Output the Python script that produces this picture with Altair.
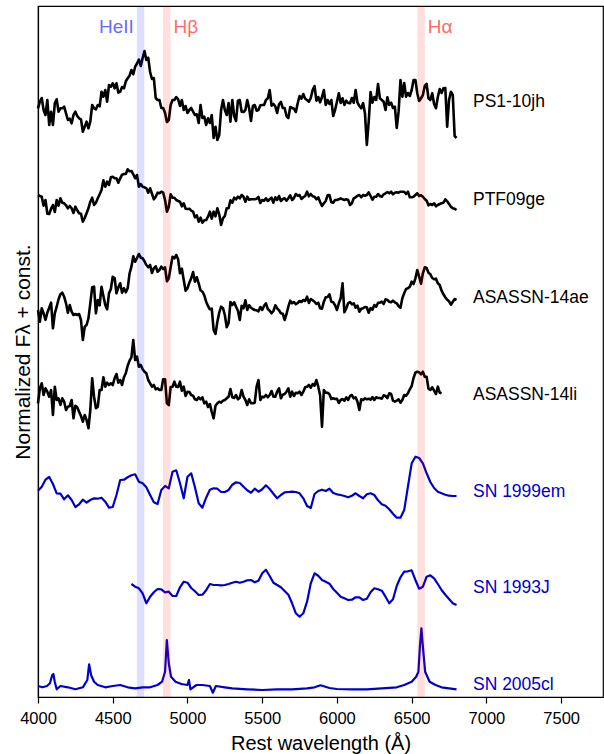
import altair as alt
import pandas as pd

# ---------------- data ----------------
GRID = list(range(4000, 6801, 25))          # wavelength grid, Å (113 points)
MID = [g + 12.5 for g in range(4000, 6800, 25)]  # half-step samples (112)
GRID_LI = list(range(4000, 6701, 25))       # ASASSN-14li ends at 6700 Å
MID_LI = [g + 12.5 for g in range(4000, 6700, 25)]
GRID_93J = list(range(4625, 6801, 25))      # SN 1993J starts at 4625 Å

PS1 = [59.17, 60.2, 58.5, 57.5, 57.5, 60.07, 59.17, 59.33, 58.0, 57.67,
       58.83, 58.17, 56.83, 57.83, 57.83, 59.17, 59.5, 60.83, 61.0, 61.5,
       61.67, 61.67, 60.83, 61.17, 62.17, 63.0, 63.33, 64.04, 64.2, 64.0,
       62.8, 62.2, 60.0, 59.2, 58.7, 58.0, 60.0, 60.3, 59.4, 59.0,
       58.7, 59.2, 58.5, 57.7, 58.2, 57.5, 57.7, 56.2, 56.0, 59.0,
       59.0, 59.7, 60.0, 57.9, 60.0, 58.8, 60.0, 57.9, 59.5, 59.0,
       59.5, 60.0, 61.0, 59.6, 58.7, 59.8, 59.2, 58.2, 59.2, 58.8,
       60.4, 60.6, 60.0, 60.2, 61.4, 60.3, 60.3, 59.5, 59.6, 58.4,
       59.83, 59.7, 59.5, 59.7, 60.2, 61.0, 59.4, 59.7, 55.5, 60.8,
       60.3, 61.6, 60.0, 59.0, 59.5, 59.2, 57.2, 62.0, 61.7, 60.7,
       61.0, 62.0, 59.9, 60.5, 61.6, 60.0, 59.6, 60.3, 60.7, 61.2,
       60.0, 60.5, 56.2]
PS1_MID = [59.83, 59.0, 60.0, 58.83, 59.67, 58.83, 59.17, 58.67, 58.13, 58.5,
           58.4, 58.07, 57.33, 57.17, 59.5, 59.07, 59.37, 60.33, 59.83, 61.33,
           61.17, 60.73, 61.3, 61.87, 62.43, 62.57, 63.65, 63.4, 64.9, 64.23,
           62.1, 60.2, 60.0, 59.2, 57.8, 59.5, 60.0, 60.07, 60.0, 59.4,
           59.0, 58.83, 58.57, 59.5, 58.33, 58.17, 58.5, 57.33, 56.5, 60.0,
           58.5, 57.83, 58.4, 59.93, 58.83, 59.0, 59.17, 59.4, 58.93, 59.47,
           59.5, 60.17, 59.43, 59.37, 59.57, 59.2, 58.4, 59.3, 59.13, 59.67,
           60.13, 60.13, 59.83, 61.0, 59.93, 59.77, 61.0, 60.0, 60.0, 59.0,
           60.67, 60.17, 59.93, 59.67, 59.73, 59.73, 59.17, 58.67, 57.83, 59.73,
           60.0, 60.17, 59.83, 60.27, 59.73, 59.33, 58.83, 60.33, 60.33, 60.4,
           62.0, 60.67, 60.17, 61.4, 60.17, 60.67, 59.17, 61.1, 61.17, 57.33,
           60.83, 56.4]

PTF = [50.5, 50.33, 50.0, 48.6, 49.5, 50.0, 50.17, 49.67, 49.17, 49.17,
       49.33, 48.67, 47.83, 48.67, 49.83, 49.5, 50.17, 51.0, 51.33, 51.5,
       52.33, 52.17, 52.17, 52.6, 53.07, 52.9, 52.17, 51.33, 51.33, 51.17,
       51.17, 50.07, 50.73, 50.83, 50.0, 49.33, 50.23, 50.0, 49.83, 49.67,
       49.1, 48.93, 48.27, 47.83, 47.73, 48.0, 48.83, 48.83, 49.17, 47.5,
       48.4, 49.17, 49.73, 50.07, 50.17, 50.33, 50.33, 50.07, 50.07, 50.3,
       50.0, 50.17, 50.07, 49.73, 50.0, 49.9, 50.17, 50.17, 50.0, 50.6,
       50.5, 50.27, 50.83, 50.6, 50.33, 50.27, 49.4, 49.9, 50.5, 49.73,
       50.0, 50.17, 50.0, 50.0, 49.67, 50.27, 50.5, 50.5, 50.5, 50.4,
       50.33, 50.6, 50.33, 50.67, 50.67, 50.57, 50.77, 50.83, 50.83, 50.83,
       50.27, 50.5, 50.4, 50.33, 49.93, 49.6, 49.67, 49.5, 49.67, 50.07,
       49.6, 49.17, 49.0]
PTF_MID = [50.4, 49.43, 48.63, 49.13, 48.8, 49.43, 49.73, 49.47, 49.4, 48.7,
           48.97, 48.63, 48.2, 49.17, 50.23, 49.73, 50.57, 51.97, 51.83, 52.27,
           52.17, 51.73, 52.53, 52.6, 52.87, 52.57, 52.5, 51.6, 51.27, 50.73,
           50.63, 50.33, 50.67, 50.73, 48.83, 50.57, 50.23, 49.9, 49.37, 49.13,
           49.13, 48.83, 48.47, 48.23, 47.97, 48.33, 48.13, 48.37, 48.57, 48.17,
           49.17, 49.97, 50.23, 50.33, 50.5, 49.83, 50.03, 50.07, 50.13, 49.7,
           49.93, 49.9, 50.23, 50.27, 50.4, 50.1, 49.93, 50.47, 50.2, 50.43,
           50.1, 50.4, 50.37, 50.37, 50.07, 49.8, 49.67, 50.47, 49.77, 50.0,
           50.07, 50.07, 50.07, 49.5, 50.17, 50.43, 50.27, 50.43, 50.77, 50.03,
           50.33, 50.4, 50.57, 50.8, 50.83, 50.73, 50.73, 50.83, 50.6, 50.27,
           50.33, 50.67, 50.47, 50.1, 49.47, 49.5, 49.37, 49.6, 49.73, 49.87,
           49.33, 49.13]

AE = [39.0, 39.17, 38.0, 39.23, 37.17, 39.33, 40.57, 40.33, 38.73, 38.83,
      38.6, 38.6, 36.0, 37.5, 39.67, 41.33, 40.0, 41.33, 39.5, 40.67,
      42.33, 40.67, 41.67, 41.17, 41.17, 43.33, 43.83, 44.6, 44.17, 43.5,
      43.5, 43.17, 42.83, 43.33, 43.27, 42.17, 44.33, 44.5, 42.67, 42.0,
      41.17, 42.17, 41.83, 41.67, 40.83, 39.83, 39.07, 37.0, 37.83, 39.33,
      38.5, 37.67, 39.5, 39.33, 38.0, 39.17, 39.0, 39.23, 39.0, 38.87,
      39.0, 39.67, 38.93, 38.9, 39.17, 38.67, 38.0, 39.33, 39.67, 39.57,
      39.9, 40.0, 40.33, 40.1, 39.83, 39.73, 39.13, 40.27, 40.57, 39.77,
      39.0, 40.17, 38.77, 39.67, 39.57, 39.23, 38.83, 39.17, 39.27, 39.2,
      39.5, 39.73, 39.83, 40.07, 39.83, 39.93, 39.67, 39.23, 40.67, 41.17,
      41.83, 42.17, 42.33, 42.67, 43.2, 42.57, 42.07, 41.67, 40.93, 40.27,
      39.87, 39.83, 40.0]
AE_MID = [37.83, 38.67, 38.73, 39.73, 38.67, 40.07, 40.73, 39.67, 39.5, 38.5,
          38.5, 38.0, 37.33, 38.17, 41.27, 38.67, 39.47, 40.4, 39.07, 41.1,
          42.2, 41.27, 40.73, 40.77, 42.63, 44.37, 44.2, 44.23, 43.87, 43.27,
          42.7, 43.37, 43.0, 43.1, 41.87, 43.27, 44.17, 44.07, 43.13, 40.93,
          41.73, 42.8, 42.27, 40.97, 40.47, 39.4, 39.13, 36.6, 38.73, 39.2,
          37.27, 39.8, 39.77, 38.93, 39.43, 39.97, 39.47, 39.1, 38.97, 39.3,
          39.43, 39.1, 38.67, 39.47, 38.97, 38.63, 38.6, 39.93, 39.8, 39.7,
          39.8, 39.9, 39.7, 39.97, 39.6, 39.17, 39.83, 40.3, 39.83, 39.47,
          39.67, 41.67, 39.17, 39.8, 39.67, 39.43, 39.13, 39.3, 38.73, 39.03,
          39.33, 39.73, 39.6, 40.0, 39.77, 39.77, 39.37, 40.17, 41.1, 41.33,
          41.6, 43.0, 41.63, 43.27, 42.73, 42.2, 42.13, 41.5, 40.57, 40.03,
          39.53, 40.1]

LI = [29.67, 31.67, 31.17, 30.33, 28.5, 30.0, 29.5, 29.83, 29.33, 30.0,
      29.43, 28.83, 27.83, 28.0, 29.0, 30.33, 29.33, 31.0, 31.33, 31.5,
      31.5, 32.6, 32.0, 32.27, 33.43, 34.27, 34.0, 33.33, 33.07, 32.67,
      31.67, 31.5, 31.17, 31.0, 32.07, 29.5, 31.33, 31.33, 31.83, 31.33,
      30.83, 30.5, 30.07, 30.27, 30.27, 29.83, 29.6, 28.17, 29.67, 29.73,
      30.0, 30.33, 30.27, 30.5, 30.23, 30.33, 29.5, 29.67, 29.73, 32.0,
      30.33, 30.5, 30.5, 30.33, 30.83, 30.17, 30.6, 31.17, 30.83, 30.73,
      30.83, 30.83, 31.33, 31.23, 31.43, 31.33, 27.33, 30.73, 30.57, 30.17,
      30.13, 30.0, 29.93, 30.0, 30.5, 30.27, 29.0, 30.0, 30.07, 30.03,
      30.0, 30.2, 30.13, 30.4, 30.67, 29.93, 29.93, 29.73, 30.5, 30.67,
      31.4, 32.73, 32.77, 32.83, 32.33, 31.0, 30.93, 31.33, 30.67]
LI_MID = [31.17, 30.5, 30.83, 31.0, 31.33, 30.17, 30.17, 29.0, 29.4, 28.17,
          29.27, 28.4, 28.5, 27.17, 32.17, 29.17, 31.0, 32.27, 31.73, 31.67,
          32.17, 31.73, 31.5, 32.67, 33.93, 36.0, 34.33, 33.5, 32.83, 32.0,
          31.33, 31.07, 31.0, 32.07, 29.67, 31.3, 31.83, 31.3, 30.93, 30.4,
          30.8, 30.43, 30.0, 30.07, 29.67, 29.3, 28.8, 29.43, 29.83, 29.93,
          30.17, 31.1, 30.2, 30.07, 31.0, 30.0, 30.07, 29.67, 31.33, 30.0,
          30.27, 30.27, 30.9, 30.33, 31.17, 30.53, 30.83, 30.33, 30.4, 30.67,
          30.5, 31.27, 31.5, 31.6, 32.0, 30.47, 31.0, 30.73, 30.1, 30.1,
          29.7, 30.1, 30.27, 30.4, 30.17, 29.83, 30.07, 30.17, 30.13, 30.3,
          30.27, 30.2, 30.47, 30.2, 30.6, 29.83, 30.07, 30.0, 30.43, 31.07,
          32.2, 32.83, 32.57, 32.33, 31.13, 31.27, 30.6, 30.73]

SN99 = [20.93, 21.33, 22.03, 22.3, 21.6, 20.67, 20.63, 20.07, 20.47, 20.0,
        19.3, 19.57, 20.03, 19.73, 20.0, 20.17, 20.13, 20.23, 19.83, 19.23,
        19.3, 20.5, 22.0, 22.03, 22.27, 22.47, 22.57, 21.83, 21.67, 21.27,
        20.5, 19.77, 19.6, 21.0, 21.4, 21.17, 22.83, 22.97, 21.67, 20.17,
        22.33, 22.67, 21.27, 19.67, 19.23, 20.23, 21.03, 21.17, 21.13, 20.8,
        20.8, 21.0, 21.53, 21.77, 21.7, 21.33, 20.97, 20.73, 21.13, 20.83,
        21.07, 21.47, 21.1, 20.63, 20.17, 20.5, 20.77, 20.8, 20.83, 20.8,
        20.67, 20.17, 19.4, 19.2, 20.6, 20.9, 21.03, 20.9, 21.13, 20.7,
        20.57, 20.5, 20.4, 20.27, 20.43, 20.67, 20.4, 20.17, 20.57, 20.67,
        20.5, 19.97, 19.57, 19.43, 19.07, 18.63, 18.23, 18.23, 19.0, 21.33,
        23.67, 24.33, 24.2, 23.67, 22.67, 21.8, 21.2, 20.83, 20.67, 20.53,
        20.43, 20.4, 20.4]

SN93 = [11.6, 11.33, 11.17, 10.67, 9.67, 10.33, 10.77, 11.1, 11.07, 10.77,
        10.83, 10.4, 10.4, 11.27, 11.83, 11.73, 11.2, 10.87, 10.5, 10.53,
        10.97, 11.6, 11.5, 11.5, 11.47, 11.5, 11.6, 11.73, 11.83, 11.73,
        11.83, 11.97, 12.0, 11.77, 11.93, 12.67, 13.03, 12.4, 11.73, 11.5,
        11.27, 10.9, 10.53, 9.67, 8.67, 8.33, 8.67, 9.83, 11.67, 12.67,
        12.43, 12.0, 11.83, 11.63, 11.1, 10.73, 10.33, 10.17, 10.0, 10.03,
        10.27, 10.27, 10.0, 10.13, 10.77, 11.17, 11.07, 10.93, 10.33, 9.67,
        10.07, 11.4, 12.27, 12.83, 12.87, 12.97, 12.0, 11.13, 11.33, 12.33,
        12.47, 12.17, 11.6, 11.0, 10.53, 10.1, 9.67, 9.5]

SN05_LAM = [4000, 4030, 4060, 4080, 4095, 4103, 4112, 4125, 4150, 4200,
            4250, 4300, 4330, 4342, 4355, 4375, 4400, 4450, 4500, 4550,
            4600, 4650, 4700, 4750, 4800, 4830, 4850, 4862, 4875, 4890,
            4920, 4960, 5000, 5010, 5020, 5060, 5100, 5150, 5170, 5190,
            5250, 5300, 5400, 5500, 5600, 5700, 5800, 5850, 5890, 5950,
            6000, 6100, 6200, 6300, 6400, 6450, 6500, 6530, 6545, 6555,
            6565, 6575, 6590, 6620, 6660, 6700, 6750, 6800]
SN05 = [1.4, 1.27, 1.4, 1.67, 2.5, 2.6, 1.83, 1.07, 1.4, 1.27,
        1.07, 1.27, 2.0, 3.57, 2.5, 1.83, 1.5, 1.27, 1.4, 1.5,
        1.27, 1.17, 1.27, 1.27, 1.5, 1.83, 2.83, 6.0, 3.67, 2.33,
        1.83, 1.6, 1.5, 2.0, 1.07, 1.5, 1.5, 1.4, 0.73, 1.4,
        1.27, 1.17, 1.07, 1.0, 1.07, 1.07, 1.17, 1.27, 1.47, 1.2,
        1.1, 1.07, 1.07, 1.17, 1.27, 1.5, 1.83, 2.33, 2.83, 5.33,
        7.17, 5.33, 2.83, 1.83, 1.5, 1.27, 1.17, 1.07]

NAMES = ["PS1-10jh", "PTF09ge", "ASASSN-14ae", "ASASSN-14li",
         "SN 1999em", "SN 1993J", "SN 2005cl"]
LABEL_FLUX = [59.8, 50.0, 40.2, 30.5, 20.83, 11.23, 1.5]
LABEL_LAM = 6910

BAND_NAMES = ["HeII", "Hβ", "Hα"]
BAND_LO = [4661, 4836, 6538]
BAND_HI = [4711, 4886, 6588]

# ---------------- styles ----------------
BLACK = "#000000"
BLUE = "#0000cd"
SPEC_COLORS = [BLACK, BLACK, BLACK, BLACK, BLUE, BLUE, BLUE]
SPEC_WIDTHS = [2.6, 2.6, 2.6, 2.6, 2.2, 2.2, 2.2]
BAND_COLORS = ["#0000ff", "#ff0000", "#ff0000"]
BAND_TEXT_COLORS = ["#6b6bff", "#ff6b6b", "#ff6b6b"]
FONT = "Liberation Sans"

series = [
    (GRID + MID, PS1 + PS1_MID),
    (GRID + MID, PTF + PTF_MID),
    (GRID + MID, AE + AE_MID),
    (GRID_LI + MID_LI, LI + LI_MID),
    (GRID, SN99),
    (GRID_93J, SN93),
    (SN05_LAM, SN05),
]
frames = []
for name, col, w, (lam, flux) in zip(NAMES, SPEC_COLORS, SPEC_WIDTHS, series):
    frames.append(pd.DataFrame({"lam": lam, "flux": flux, "name": name,
                                "col": col, "w": w}))
spec = pd.concat(frames, ignore_index=True).sort_values(["name", "lam"])

labels = pd.DataFrame({"name": NAMES, "flux": LABEL_FLUX,
                       "lam": [LABEL_LAM] * len(NAMES), "col": SPEC_COLORS})
bands = pd.DataFrame({"band": BAND_NAMES, "lo": BAND_LO, "hi": BAND_HI,
                      "col": BAND_COLORS, "tcol": BAND_TEXT_COLORS})

XDOM = [4000, 7780]
YDOM = [0.3, 69.4]
xs = alt.Scale(domain=XDOM, nice=False, zero=False)
ys = alt.Scale(domain=YDOM, nice=False, zero=False)

xaxis = alt.Axis(values=[4000, 4500, 5000, 5500, 6000, 6500, 7000, 7500],
                 format="d", labelFontSize=16.5, labelColor="black",
                 tickSize=6, tickColor="black", tickWidth=1.2,
                 domainColor="black", domainWidth=1.2, grid=False,
                 labelPadding=7, title="Rest wavelength (Å)",
                 titleFontSize=20, titleFontWeight="normal",
                 titleColor="black", titlePadding=7, labelFlush=False)
yaxis = alt.Axis(ticks=False, labels=False, grid=False, domainColor="black",
                 domainWidth=1.2, title="Normalized Fλ + const.",
                 titleFontSize=21, titleFontWeight="normal",
                 titleColor="black", titlePadding=5)

lines = alt.Chart(spec).mark_line(strokeJoin="round").encode(
    x=alt.X("lam:Q", scale=xs, axis=xaxis),
    y=alt.Y("flux:Q", scale=ys, axis=yaxis),
    color=alt.Color("col:N", scale=None),
    strokeWidth=alt.StrokeWidth("w:Q", scale=None),
    detail="name:N",
    order="lam:Q",
)

band_rects = alt.Chart(bands).mark_rect(opacity=0.13).encode(
    x="lo:Q", x2="hi:Q",
    y=alt.datum(YDOM[0]), y2=alt.datum(YDOM[1]),
    color=alt.Color("col:N", scale=None),
)

band_top = 67.3
he_text = alt.Chart(bands[bands.band == "HeII"]).mark_text(
    align="right", baseline="middle", fontSize=19, dx=-3).encode(
    x="lo:Q", y=alt.datum(band_top), text="band:N",
    color=alt.Color("tcol:N", scale=None))
h_text = alt.Chart(bands[bands.band != "HeII"]).mark_text(
    align="left", baseline="middle", fontSize=19, dx=3).encode(
    x="hi:Q", y=alt.datum(band_top), text="band:N",
    color=alt.Color("tcol:N", scale=None))

spec_text = alt.Chart(labels).mark_text(
    align="left", baseline="middle", fontSize=17.5).encode(
    x="lam:Q", y="flux:Q", text="name:N",
    color=alt.Color("col:N", scale=None))

chart = alt.layer(lines, band_rects, he_text, h_text, spec_text).properties(
    width=565, height=691,
    padding={"left": 38, "top": 6, "right": 1, "bottom": 57},
    autosize="none",
).configure(font=FONT).configure_view(stroke="black", strokeWidth=1.2)

chart.save("out.html", embed_options={"renderer": "svg", "actions": False})
